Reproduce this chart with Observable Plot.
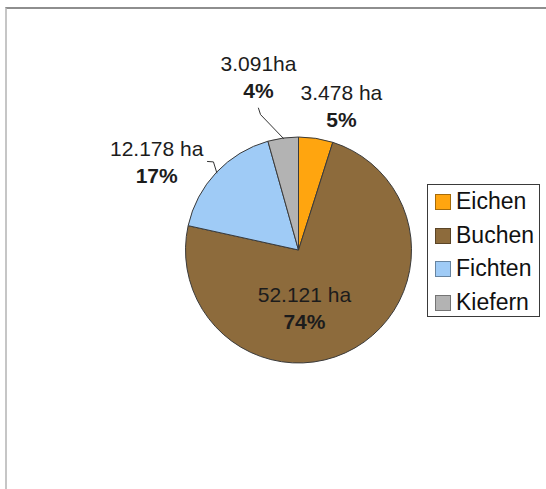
<!DOCTYPE html>
<html><head><meta charset="utf-8">
<script src="https://cdn.jsdelivr.net/npm/d3@7"></script>
<script src="https://cdn.jsdelivr.net/npm/@observablehq/plot@0.6"></script>
<style>
html,body{margin:0;padding:0;background:#fff;}
#wrap{position:relative;width:546px;height:489px;overflow:hidden;font-family:"Liberation Sans",Arial,sans-serif;}
#frame{position:absolute;left:5px;top:7px;width:700px;height:700px;border-top:2px solid #8e8e8e;border-left:2px solid #c6c6c6;}
#chart{position:absolute;left:0;top:0;}
#legend{position:absolute;left:427px;top:184px;width:111px;height:131px;border:1px solid #3a3a3a;background:#fff;}
.item{position:relative;height:33.5px;}
.sw{position:absolute;left:7px;top:9px;width:14px;height:14px;border:1px solid rgba(0,0,0,0.35);}
.lb{position:absolute;left:28px;top:0;font-size:23px;line-height:33.5px;color:#111;white-space:nowrap;}
</style></head><body>
<div id="wrap"><div id="frame"></div><div id="chart"></div><div id="legend"></div></div>
<script>
// ---- data ----
const species = ["Eichen", "Buchen", "Fichten", "Kiefern"];
const hectares = [3478, 52121, 12178, 3091];
const areaLabels = ["3.478 ha", "52.121 ha", "12.178 ha", "3.091ha"];
const colors = ["#ffa50f", "#8d6b3c", "#9fcbf6", "#b3b3b3"];

// ---- label placement (polar: degrees clockwise from 12 o'clock, radius in pie radii) ----
const labelAngle = [16.4, 174.7, 301.7, 346.8];
const labelRadius = [1.33, 0.52, 1.48, 1.57];
const leaderSpecies = ["Fichten", "Kiefern"];
const leaderStart = [[314.2, 1.13], [-15.9, 1.31]];
const leaderElbow = [[316.0, 1.09], [-15.8, 1.25]];

const total = d3.sum(hectares);
const arcs = d3.pie().sort(null).value(d => d)(hectares);
const rad = a => a * Math.PI / 180;
const px = (a, r) => r * Math.sin(rad(a));
const py = (a, r) => r * Math.cos(rad(a));

const labels = species.map((s, i) => ({
  species: s,
  x: px(labelAngle[i], labelRadius[i]),
  y: py(labelAngle[i], labelRadius[i]),
  area: areaLabels[i],
  pct: Math.round(hectares[i] / total * 100) + "%"
}));

const leaders = [];
leaderSpecies.forEach((s, k) => {
  const i = species.indexOf(s);
  const mid = (arcs[i].startAngle + arcs[i].endAngle) / 2 * 180 / Math.PI;
  [leaderStart[k], leaderElbow[k], [mid, 1.0]].forEach(([a, r]) =>
    leaders.push({species: s, x: px(a, r), y: py(a, r)}));
});

const cx = 298.5, cy = 250, R = 113;

function pieMark(index, scales) {
  const x0 = scales.x(0), y0 = scales.y(0), r = scales.x(1) - scales.x(0);
  const arc = d3.arc().innerRadius(0).outerRadius(r);
  const g = d3.create("svg:g").attr("transform", `translate(${x0},${y0})`);
  g.selectAll("path").data(arcs).join("path")
    .attr("d", arc)
    .attr("fill", (d, i) => colors[i])
    .attr("stroke", "#3a3a3a")
    .attr("stroke-width", 1);
  return g.node();
}

const chart = Plot.plot({
  width: 546,
  height: 489,
  margin: 0,
  style: {fontFamily: "'Liberation Sans', Arial, sans-serif", background: "transparent", color: "#1c1c1c"},
  x: {domain: [-1, 1], range: [cx - R, cx + R], axis: null},
  y: {domain: [-1, 1], range: [cy + R, cy - R], axis: null},
  marks: [
    pieMark,
    Plot.line(leaders, {x: "x", y: "y", z: "species", stroke: "#333", strokeWidth: 1}),
    Plot.text(labels, {x: "x", y: "y", text: "area", fontSize: 21, dy: -13.5}),
    Plot.text(labels, {x: "x", y: "y", text: "pct", fontSize: 21, fontWeight: "bold", dy: 13.5})
  ]
});
document.getElementById("chart").appendChild(chart);

const legend = d3.select("#legend");
species.forEach((s, i) => {
  const item = legend.append("div").attr("class", "item");
  item.append("div").attr("class", "sw").style("background", colors[i]);
  item.append("div").attr("class", "lb").text(s);
});
</script>
</body></html>
